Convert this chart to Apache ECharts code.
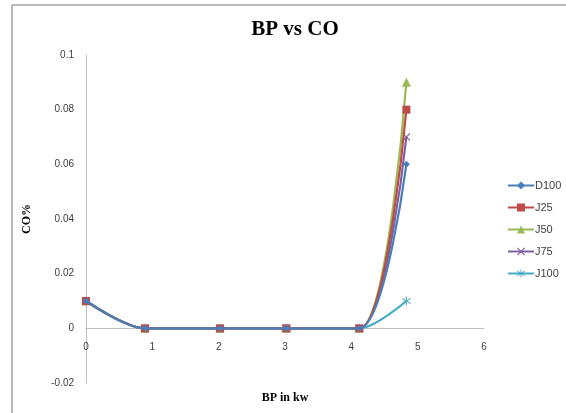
<!DOCTYPE html>
<html>
<head>
<meta charset="utf-8">
<script src="https://cdn.jsdelivr.net/npm/echarts@6/dist/echarts.min.js"></script>
<style>
  html, body { margin: 0; padding: 0; background: #fff; }
  #chart { width: 566px; height: 413px; }
</style>
</head>
<body>
<div id="chart"></div>
<script>
  // BP values (kW) shared by all fuels
  const bp = [0, 0.89, 2.02, 3.02, 4.12, 4.83];

  // CO % for each blend
  const d100 = [0.01, 0, 0, 0, 0, 0.06];
  const j25 = [0.01, 0, 0, 0, 0, 0.08];
  const j50 = [0.01, 0, 0, 0, 0, 0.09];
  const j75 = [0.01, 0, 0, 0, 0, 0.07];
  const j100 = [0.01, 0, 0, 0, 0, 0.01];

  const seriesNames = ['D100', 'J25', 'J50', 'J75', 'J100'];
  const seriesValues = [d100, j25, j50, j75, j100];
  const colors = ['#4A7EBB', '#BE4B48', '#98B954', '#7D60A0', '#46AAC5'];

  const xMark = 'path://M0,1 L1,0 L5,4 L9,0 L10,1 L6,5 L10,9 L9,10 L5,6 L1,10 L0,9 L4,5 Z';
  const starMark = 'path://M4.5,0 H5.5 V4.1 L8.9,1.7 L9.5,2.5 L6.1,5 L9.5,7.5 L8.9,8.3 L5.5,5.9 V10 H4.5 V5.9 L1.1,8.3 L0.5,7.5 L3.9,5 L0.5,2.5 L1.1,1.7 L4.5,4.1 Z';
  const symbols = ['diamond', 'rect', 'triangle', xMark, starMark];
  const sizes = [7, 8, 9, 8, 9];

  function pairs(values) {
    return values.map((v, i) => [bp[i], v]);
  }

  const chart = echarts.init(document.getElementById('chart'));

  chart.setOption({
    animation: false,
    color: colors,
    title: {
      text: 'BP vs CO',
      left: 290,
      top: 14,
      textAlign: 'center',
      textStyle: { fontFamily: 'Liberation Serif', fontSize: 21, fontWeight: 'bold', color: '#000' }
    },
    graphic: [{
      type: 'rect',
      shape: { x: 12, y: 5, width: 570, height: 420 },
      style: { fill: 'none', stroke: '#a6a6a6', lineWidth: 1.5 },
      silent: true
    }],
    legend: {
      orient: 'vertical',
      left: 502,
      top: 175,
      itemGap: 11,
      itemWidth: 26,
      itemHeight: 10,
      data: seriesNames,
      textStyle: { fontFamily: 'Liberation Sans', fontSize: 11, color: '#404040', padding: [0, 0, 0, -4] }
    },
    grid: { left: 86, right: 82, top: 55, bottom: 30, outerBoundsMode: 'none', containLabel: false },
    xAxis: {
      type: 'value',
      min: 0,
      max: 6,
      interval: 1,
      // axis drawn at the zero line (0 sits 55px above the grid bottom)
      offset: -55,
      name: 'BP in kw',
      nameLocation: 'middle',
      nameGap: 64,
      nameTextStyle: { fontFamily: 'Liberation Serif', fontSize: 12, fontWeight: 'bold', color: '#000' },
      axisLine: { onZero: false, lineStyle: { color: '#bfbfbf', width: 1 } },
      axisTick: { show: false },
      axisLabel: { margin: 14, fontFamily: 'Liberation Sans', fontSize: 10, color: '#404040' },
      splitLine: { show: false }
    },
    yAxis: {
      type: 'value',
      min: -0.02,
      max: 0.1,
      interval: 0.02,
      name: 'CO%',
      nameLocation: 'middle',
      nameGap: 53,
      nameRotate: 90,
      nameTextStyle: { fontFamily: 'Liberation Serif', fontSize: 12, fontWeight: 'bold', color: '#000' },
      axisLine: { show: true, onZero: false, lineStyle: { color: '#bfbfbf', width: 1 } },
      axisTick: { show: false },
      axisLabel: { margin: 12, fontFamily: 'Liberation Sans', fontSize: 10, color: '#404040' },
      splitLine: { show: false }
    },
    series: seriesNames.map((name, i) => ({
      name: name,
      type: 'line',
      smooth: 0.3,
      data: pairs(seriesValues[i]),
      symbol: symbols[i],
      symbolSize: sizes[i],
      showAllSymbol: true,
      lineStyle: { width: 2.2, color: colors[i] },
      itemStyle: { color: colors[i] },
      z: 10 - i
    }))
  });
</script>
</body>
</html>
